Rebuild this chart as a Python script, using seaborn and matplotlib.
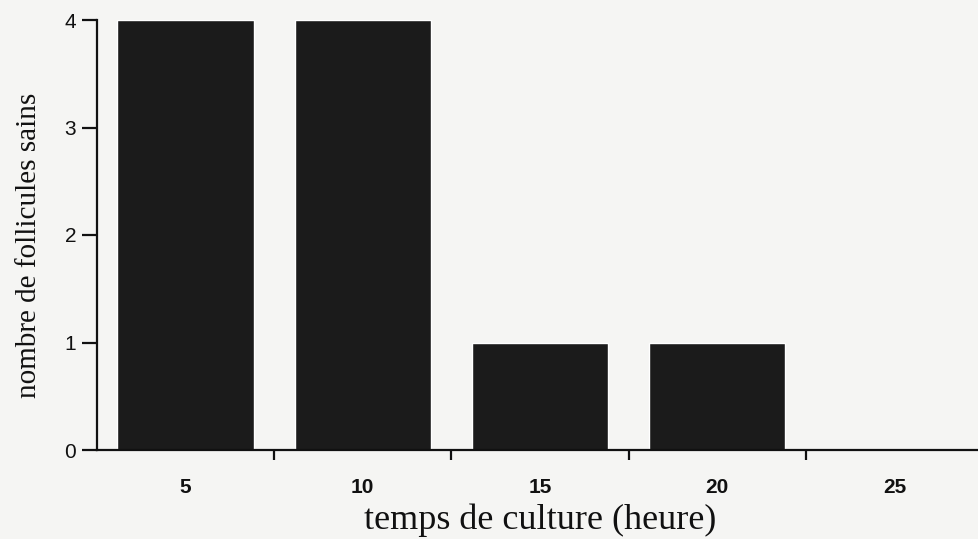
import numpy as np
import pandas as pd
import matplotlib
matplotlib.use("Agg")
import matplotlib.pyplot as plt
import seaborn as sns

# temps de culture (heure) and nombre de follicules sains
heures = [5, 10, 15, 20, 25]
follicules = [4, 4, 1, 1, 0]

df = pd.DataFrame({"heure": [str(h) for h in heures], "follicules": follicules})

sns.set_style("white")
plt.rcParams["font.family"] = ["Liberation Sans", "DejaVu Sans"]

fig = plt.figure(figsize=(9.79, 5.39), dpi=100, facecolor="#f5f5f3")
ax = fig.add_axes([97 / 979, 1 - 450 / 539, 886 / 979, 430 / 539])
ax.set_facecolor("#f5f5f3")

sns.barplot(data=df, x="heure", y="follicules", color="#1b1b1b", width=0.77,
            saturation=1, ax=ax)

ax.set_xlim(-0.5, 4.5)
ax.set_ylim(0, 4)
ax.set_yticks([0, 1, 2, 3, 4])

# labels at category centres, tick marks between categories
n = len(heures)
ax.set_xticks(np.arange(n), [str(h) for h in heures])
ax.set_xticks(np.arange(n) + 0.5, minor=True)
ax.tick_params(axis="x", which="major", bottom=True, length=0, pad=20, labelsize=15)
ax.tick_params(axis="x", which="minor", bottom=True, length=7, width=1.6,
               direction="out", color="#111111")
ax.tick_params(axis="y", left=True, length=11, width=1.6, direction="out", pad=4,
               labelsize=15, color="#111111", labelcolor="#111111")
for lab in ax.get_xticklabels():
    lab.set_fontweight("bold")
    lab.set_color("#111111")

for side in ["top", "right"]:
    ax.spines[side].set_visible(False)
for side in ["left", "bottom"]:
    ax.spines[side].set_linewidth(1.6)
    ax.spines[side].set_color("#111111")

ax.set_xlabel("temps de culture (heure)", family="Liberation Serif", fontsize=26,
              color="#111111", labelpad=5)
ax.set_ylabel("nombre de follicules sains", family="Liberation Serif", fontsize=21,
              color="#111111")
ax.yaxis.set_label_coords(-0.062, 0.475)

fig.savefig("out.png", dpi=100, facecolor=fig.get_facecolor())
